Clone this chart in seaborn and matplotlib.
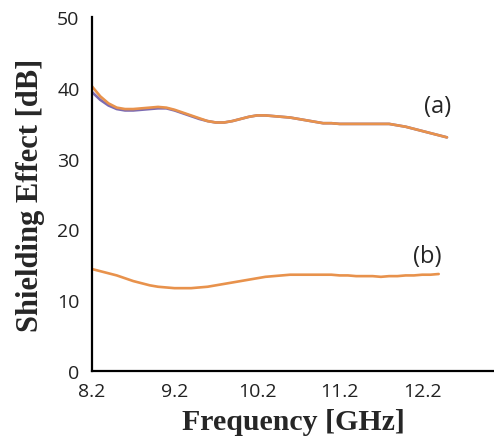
import pandas as pd
import seaborn as sns
import matplotlib.pyplot as plt

# =========================================================
# DATA
# =========================================================

freq_a = [8.2, 8.3, 8.4, 8.5, 8.6, 8.7, 8.8, 8.9, 9.0, 9.1,
          9.2, 9.3, 9.4, 9.5, 9.6, 9.7, 9.8, 9.9, 10.0, 10.1,
          10.2, 10.3, 10.4, 10.5, 10.6, 10.7, 10.8, 10.9, 11.0, 11.1,
          11.2, 11.3, 11.4, 11.5, 11.6, 11.7, 11.8, 11.9, 12.0, 12.1,
          12.2, 12.3, 12.4, 12.5]

se_a_orange = [40.2, 38.8, 37.8, 37.2, 37.0, 37.0, 37.1, 37.2, 37.3, 37.2,
               36.9, 36.5, 36.1, 35.7, 35.3, 35.1, 35.1, 35.3, 35.6, 35.9,
               36.1, 36.1, 36.0, 35.9, 35.8, 35.6, 35.4, 35.2, 35.0, 35.0,
               34.9, 34.9, 34.9, 34.9, 34.9, 34.9, 34.9, 34.7, 34.5, 34.2,
               33.9, 33.6, 33.3, 33.0]

se_a_purple = [39.4, 38.3, 37.5, 37.0, 36.8, 36.8, 36.9, 37.0, 37.1, 37.1,
               36.8, 36.4, 36.0, 35.6, 35.3, 35.1, 35.1, 35.3, 35.6, 35.9,
               36.1, 36.1, 36.0, 35.9, 35.8, 35.6, 35.4, 35.2, 35.0, 35.0,
               34.9, 34.9, 34.9, 34.9, 34.9, 34.9, 34.9, 34.7, 34.5, 34.2,
               33.9, 33.6, 33.3, 33.0]

freq_b = [8.2, 8.3, 8.4, 8.5, 8.6, 8.7, 8.8, 8.9, 9.0, 9.1,
          9.2, 9.3, 9.4, 9.5, 9.6, 9.7, 9.8, 9.9, 10.0, 10.1,
          10.2, 10.3, 10.4, 10.5, 10.6, 10.7, 10.8, 10.9, 11.0, 11.1,
          11.2, 11.3, 11.4, 11.5, 11.6, 11.7, 11.8, 11.9, 12.0, 12.1,
          12.2, 12.3, 12.4]

se_b = [14.4, 14.1, 13.8, 13.5, 13.1, 12.7, 12.4, 12.1, 11.9, 11.8,
        11.7, 11.7, 11.7, 11.8, 11.9, 12.1, 12.3, 12.5, 12.7, 12.9,
        13.1, 13.3, 13.4, 13.5, 13.6, 13.6, 13.6, 13.6, 13.6, 13.6,
        13.5, 13.5, 13.4, 13.4, 13.4, 13.3, 13.4, 13.4, 13.5, 13.5,
        13.6, 13.6, 13.7]

x_ticks = [8.2, 9.2, 10.2, 11.2, 12.2]
y_ticks = [0, 10, 20, 30, 40, 50]

# =========================================================
# SETTINGS
# =========================================================

sns.set_style("white")

plt.rcParams["font.family"] = ["Open Sans", "DejaVu Sans"]

ORANGE = "#E8924C"
PURPLE = "#7C6BB2"

df_a_p = pd.DataFrame({"freq": freq_a, "se": se_a_purple})
df_a_o = pd.DataFrame({"freq": freq_a, "se": se_a_orange})
df_b = pd.DataFrame({"freq": freq_b, "se": se_b})

# =========================================================
# PLOT
# =========================================================

fig = plt.figure(figsize=(4.94, 4.39), dpi=100)
ax = fig.add_axes([92 / 494, 67 / 439, 402 / 494, 354 / 439])

sns.lineplot(data=df_a_p, x="freq", y="se", color=PURPLE, linewidth=1.9, ax=ax)
sns.lineplot(data=df_a_o, x="freq", y="se", color=ORANGE, linewidth=1.9, ax=ax)
sns.lineplot(data=df_b, x="freq", y="se", color=ORANGE, linewidth=1.9, ax=ax)

ax.set_xlim(8.2, 13.07)
ax.set_ylim(0, 50)
ax.set_xticks(x_ticks)
ax.set_xticklabels([str(t) for t in x_ticks])
ax.set_yticks(y_ticks)

ax.tick_params(direction="in", length=6, width=1.6, labelsize=14,
               colors="black", labelcolor="#222222")
ax.tick_params(axis="x", pad=8)
ax.tick_params(axis="y", pad=9)

for side in ["top", "right"]:
    ax.spines[side].set_visible(False)
for side in ["left", "bottom"]:
    ax.spines[side].set_linewidth(1.6)
    ax.spines[side].set_color("black")

ax.set_xlabel("Frequency [GHz]", family="Liberation Serif",
              fontweight="bold", fontsize=21.5, labelpad=6)
ax.set_ylabel("Shielding Effect [dB]", family="Liberation Serif",
              fontweight="bold", fontsize=22, labelpad=9)

ax.text(12.39, 37.4, "(a)", fontsize=17, ha="center", va="center")
ax.text(12.26, 16.2, "(b)", fontsize=17, ha="center", va="center")

fig.savefig("out.png", dpi=100)
